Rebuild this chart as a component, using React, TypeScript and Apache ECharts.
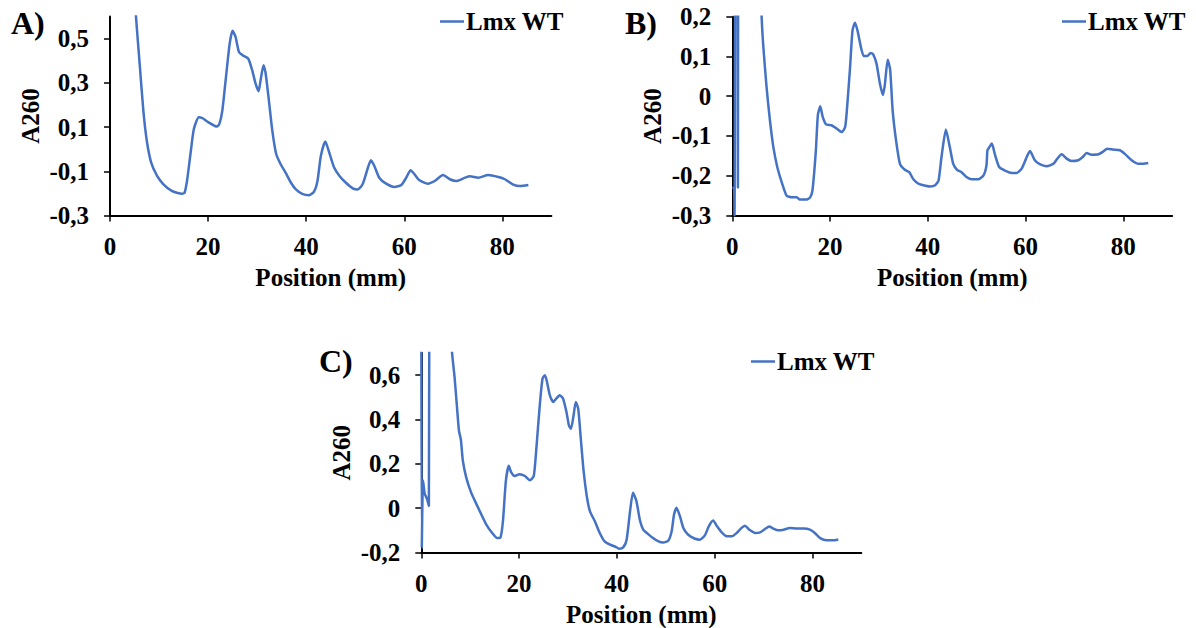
import React, { useEffect, useRef } from "react";
import * as echarts from "echarts";

const FONT = '"Liberation Serif", "Times New Roman", Times, serif';
const LINE_COLOR = "#4472C4";
const SERIES_NAME = "Lmx WT";
const X_NAME = "Position (mm)";
const Y_NAME = "A260";
const PANEL_LABELS = ["A)", "B)", "C)"];

const xTicks = [0, 20, 40, 60, 80];
const yTicksA = [-0.3, -0.1, 0.1, 0.3, 0.5];
const yTicksB = [-0.3, -0.2, -0.1, 0, 0.1, 0.2];
const yTicksC = [-0.2, 0, 0.2, 0.4, 0.6];

// Panel A (curve enters from above the plot top)
const posA = [5.25, 5.3, 6.1, 6.8, 7.5, 8.4, 9.6, 10.9, 12.6, 14.7, 15.2, 15.7, 16.4, 17.1, 18.1, 18.8, 20.1, 21.8, 22.3, 22.9, 23.5, 24.4, 25.0, 25.6, 26.3, 27.1, 28.2, 29.0, 29.7, 30.3, 30.7, 31.3, 31.7, 32.4, 33.1, 33.9, 34.8, 35.8, 36.9, 37.9, 39.2, 40.6, 41.6, 42.3, 43.0, 43.9, 44.7, 45.7, 46.8, 48.1, 49.5, 50.5, 51.5, 52.6, 53.2, 53.9, 54.9, 56.3, 58.0, 59.4, 60.4, 61.3, 62.1, 63.1, 64.8, 66.2, 67.9, 69.3, 70.6, 72.4, 73.4, 75.1, 77.1, 79.2, 80.5, 82.1, 83.6, 85.3];
const a260A = [0.62, 0.598, 0.371, 0.174, 0.038, -0.061, -0.121, -0.159, -0.189, -0.202, -0.197, -0.144, -0.023, 0.091, 0.144, 0.141, 0.121, 0.102, 0.114, 0.174, 0.295, 0.477, 0.535, 0.508, 0.439, 0.424, 0.409, 0.356, 0.295, 0.262, 0.311, 0.379, 0.348, 0.22, 0.083, -0.023, -0.068, -0.106, -0.152, -0.182, -0.202, -0.208, -0.192, -0.144, -0.03, 0.035, -0.015, -0.083, -0.121, -0.152, -0.177, -0.182, -0.159, -0.083, -0.05, -0.076, -0.129, -0.156, -0.171, -0.162, -0.129, -0.095, -0.114, -0.141, -0.156, -0.144, -0.117, -0.136, -0.144, -0.129, -0.123, -0.129, -0.117, -0.126, -0.136, -0.159, -0.167, -0.162];

// Panel B (initial spikes run off the top of the plot)
const posB = [0, 0.35, 0.45, 0.7, 1.0, 1.15, 1.3, 5.95, 6.0, 6.3, 7.0, 7.7, 8.4, 9.2, 10.1, 11.1, 12.2, 13.2, 13.8, 15.1, 15.9, 16.4, 17.1, 17.5, 18.0, 18.5, 19.2, 20.3, 21.4, 22.4, 23.1, 23.6, 24.1, 24.6, 25.1, 25.6, 26.3, 26.9, 27.6, 28.3, 28.8, 29.5, 30.2, 30.8, 31.2, 31.8, 32.3, 32.8, 33.5, 34.3, 35.3, 36.2, 37.0, 38.1, 39.1, 40.4, 41.5, 42.2, 42.8, 43.7, 44.5, 45.2, 46.0, 46.9, 47.9, 49.0, 50.3, 51.4, 52.0, 52.2, 52.6, 53.1, 53.7, 54.6, 55.8, 57.2, 58.2, 59.2, 60.1, 60.9, 61.9, 62.9, 64.3, 65.7, 66.5, 67.4, 68.4, 69.4, 70.8, 71.7, 72.5, 73.5, 74.9, 75.8, 76.7, 77.9, 79.3, 80.3, 81.7, 83.1, 84.1, 85.1];
const a260B = [-0.23, -0.23, -0.3, 0.6, 0.6, -0.23, 0.6, 0.25, 0.2, 0.133, 0.024, -0.061, -0.128, -0.178, -0.216, -0.25, -0.254, -0.254, -0.26, -0.26, -0.255, -0.237, -0.136, -0.048, -0.025, -0.052, -0.071, -0.073, -0.082, -0.09, -0.077, -0.01, 0.074, 0.166, 0.185, 0.166, 0.124, 0.101, 0.101, 0.109, 0.106, 0.082, 0.032, 0.003, 0.028, 0.092, 0.066, -0.035, -0.111, -0.17, -0.185, -0.191, -0.208, -0.22, -0.224, -0.227, -0.224, -0.212, -0.153, -0.084, -0.128, -0.17, -0.185, -0.191, -0.203, -0.209, -0.209, -0.199, -0.174, -0.136, -0.128, -0.119, -0.145, -0.178, -0.187, -0.193, -0.193, -0.182, -0.157, -0.138, -0.161, -0.171, -0.176, -0.17, -0.157, -0.146, -0.157, -0.163, -0.161, -0.153, -0.143, -0.147, -0.146, -0.14, -0.132, -0.134, -0.136, -0.145, -0.161, -0.17, -0.17, -0.168];

// Panel C (initial spikes run off the top of the plot)
const posC = [0, 0.1, 0.35, 0.7, 1.2, 1.55, 1.65, 6.25, 6.3, 6.8, 7.3, 7.7, 8.1, 8.5, 9.2, 10.2, 11.3, 12.3, 13.3, 14.5, 15.5, 16.2, 16.7, 17.3, 17.9, 18.4, 19.1, 20.1, 21.2, 22.2, 23.0, 23.5, 24.2, 24.8, 25.3, 25.7, 26.3, 27.0, 27.6, 28.3, 29.0, 29.7, 30.2, 30.6, 31.1, 31.6, 32.1, 32.6, 33.2, 33.9, 34.5, 35.5, 36.5, 37.5, 38.6, 39.6, 40.5, 41.3, 42.0, 42.7, 43.3, 44.0, 44.7, 45.4, 46.4, 47.4, 48.5, 49.5, 50.5, 51.2, 51.7, 52.2, 52.9, 53.6, 54.6, 56.0, 57.0, 58.0, 58.8, 59.7, 60.5, 61.4, 62.5, 63.5, 64.5, 65.5, 66.2, 67.1, 68.3, 69.3, 70.3, 71.2, 72.0, 73.0, 74.1, 75.4, 76.8, 78.2, 79.5, 80.5, 81.6, 82.9, 84.2, 85.3];
const a260C = [0.9, -0.18, 0.125, 0.065, 0.04, 0.01, 0.9, 0.75, 0.698, 0.592, 0.456, 0.35, 0.308, 0.214, 0.138, 0.07, 0.017, -0.029, -0.074, -0.112, -0.135, -0.132, -0.059, 0.123, 0.191, 0.161, 0.145, 0.153, 0.145, 0.126, 0.145, 0.259, 0.456, 0.585, 0.6, 0.57, 0.509, 0.479, 0.494, 0.509, 0.494, 0.433, 0.373, 0.358, 0.411, 0.479, 0.448, 0.32, 0.168, 0.047, -0.014, -0.059, -0.112, -0.15, -0.165, -0.173, -0.183, -0.177, -0.142, -0.014, 0.07, 0.032, -0.052, -0.097, -0.117, -0.135, -0.15, -0.155, -0.147, -0.105, -0.029, 0.002, -0.036, -0.089, -0.12, -0.138, -0.142, -0.123, -0.082, -0.056, -0.082, -0.108, -0.127, -0.127, -0.112, -0.089, -0.079, -0.097, -0.112, -0.109, -0.094, -0.083, -0.092, -0.1, -0.097, -0.089, -0.092, -0.092, -0.097, -0.112, -0.135, -0.145, -0.145, -0.141];

const fmt = (v: number) => {
  const r = Math.round(v * 10) / 10;
  if (r === 0) return "0";
  return r.toFixed(1).replace(".", ",");
};

const textBase = { fontFamily: FONT, fontWeight: "bold" as const, color: "#000", fontSize: 25 };

const panels = [
  { grid: { left: 110, top: 16.5, width: 441.4, height: 199 }, yMin: -0.3, yMax: 0.6, yInt: 0.2, yTicks: yTicksA, x: posA, y: a260A, legend: { left: 440, top: 9 }, label: { x: 11, y: 22.5 } },
  { grid: { left: 732.3, top: 16.7, width: 439.9, height: 198.8 }, yMin: -0.3, yMax: 0.2, yInt: 0.1, yTicks: yTicksB, x: posB, y: a260B, legend: { left: 1062, top: 9 }, label: { x: 625, y: 22.5 } },
  { grid: { left: 421.3, top: 353, width: 440, height: 199.5 }, yMin: -0.2, yMax: 0.7, yInt: 0.2, yTicks: yTicksC, x: posC, y: a260C, legend: { left: 751, top: 349 }, label: { x: 319, y: 361 } },
];

export default function App() {
  const ref = useRef<HTMLDivElement>(null);
  useEffect(() => {
    if (!ref.current) return;
    const chart = echarts.init(ref.current, undefined, { renderer: "svg" });
    const option: any = {
      animation: false,
      backgroundColor: "#fff",
      grid: panels.map((p) => ({ ...p.grid, containLabel: false })),
      xAxis: panels.map((p, i) => ({
        type: "value",
        gridIndex: i,
        min: 0,
        max: 90,
        interval: 20,
        axisLine: { show: true, onZero: false, lineStyle: { color: "#000", width: 2 } },
        axisTick: { show: true, length: 6, customValues: xTicks, lineStyle: { color: "#000", width: 1.5 } },
        axisLabel: { customValues: xTicks, margin: 18, ...textBase },
        splitLine: { show: false },
        name: X_NAME,
        nameLocation: "middle",
        nameGap: 49,
        nameTextStyle: { ...textBase },
      })),
      yAxis: panels.map((p, i) => ({
        type: "value",
        gridIndex: i,
        min: p.yMin,
        max: p.yMax,
        interval: p.yInt,
        axisLine: { show: true, onZero: false, lineStyle: { color: "#000", width: 2 } },
        axisTick: { show: true, length: 6, customValues: p.yTicks, lineStyle: { color: "#000", width: 1.5 } },
        axisLabel: { customValues: p.yTicks, margin: 21, formatter: fmt, ...textBase },
        splitLine: { show: false },
        name: Y_NAME,
        nameLocation: "middle",
        nameGap: 67,
        nameTextStyle: { ...textBase },
      })),
      legend: panels.map((p) => ({
        data: [SERIES_NAME],
        left: p.legend.left,
        top: p.legend.top,
        padding: 0,
        icon: "rect",
        itemWidth: 24,
        itemHeight: 2.5,
        itemStyle: { color: LINE_COLOR },
        textStyle: { ...textBase, padding: [0, 0, 0, -3] },
        selectedMode: false,
      })),
      graphic: panels.map((p, i) => ({
        type: "text",
        x: p.label.x,
        y: p.label.y,
        style: {
          text: PANEL_LABELS[i],
          font: `bold 32px ${FONT}`,
          fill: "#000",
          textAlign: "left",
          textVerticalAlign: "middle",
          align: "left",
          verticalAlign: "middle",
        },
      })),
      series: panels.map((p, i) => ({
        type: "line",
        name: SERIES_NAME,
        xAxisIndex: i,
        yAxisIndex: i,
        data: p.x.map((x, k) => [x, p.y[k]]),
        symbol: "none",
        showSymbol: false,
        smooth: 0.2,
        clip: true,
        lineStyle: { color: LINE_COLOR, width: 2.5 },
        itemStyle: { color: LINE_COLOR },
      })),
    };
    chart.setOption(option);
    return () => chart.dispose();
  }, []);
  return (
    <div
      ref={ref}
      style={{ position: "fixed", left: 0, top: 0, width: 1196, height: 628, background: "#fff" }}
    />
  );
}
